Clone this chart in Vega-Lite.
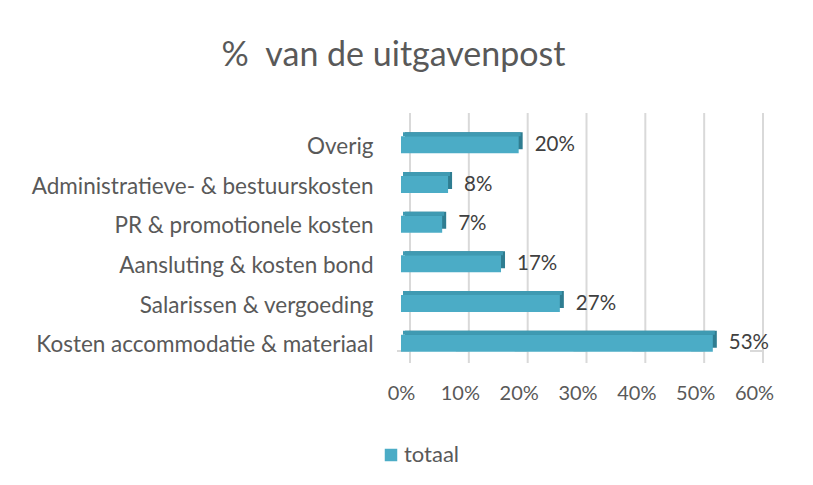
{
  "$schema": "https://vega.github.io/schema/vega-lite/v6.json",
  "width": 353,
  "height": 238,
  "autosize": {"type": "none"},
  "padding": {"left": 401, "top": 125, "right": 59, "bottom": 122},
  "background": "white",
  "config": {
    "view": {"stroke": null},
    "font": "Lato"
  },
  "title": {
    "text": "% \u00a0van de uitgavenpost",
    "anchor": "middle",
    "frame": "group",
    "dx": -184,
    "fontSize": 34,
    "fontWeight": "normal",
    "color": "#595959",
    "font": "Lato",
    "baseline": "alphabetic",
    "offset": 12
  },
  "datasets": {
    "costs": [
      {"post": "Overig\u00a0", "aandeel": 0.20, "reeks": "totaal"},
      {"post": "Administratieve- & bestuurskosten", "aandeel": 0.08, "reeks": "totaal"},
      {"post": "PR & promotionele kosten\u00a0", "aandeel": 0.07, "reeks": "totaal"},
      {"post": "Aansluting & kosten bond", "aandeel": 0.17, "reeks": "totaal"},
      {"post": "Salarissen & vergoeding\u00a0", "aandeel": 0.27, "reeks": "totaal"},
      {"post": "Kosten accommodatie & materiaal", "aandeel": 0.53, "reeks": "totaal"}
    ],
    "grid": [
      {"tick": 0}, {"tick": 0.1}, {"tick": 0.2}, {"tick": 0.3}, {"tick": 0.4}, {"tick": 0.5}, {"tick": 0.6}
    ]
  },
  "layer": [
    {
      "data": {"name": "grid"},
      "mark": {"type": "rule", "color": "#d9d9d9", "strokeWidth": 2, "xOffset": 9, "yOffset": -12, "y2Offset": -12},
      "encoding": {
        "x": {"field": "tick", "type": "quantitative", "scale": {"domain": [0, 0.6]}}
      }
    },
    {
      "data": {"name": "grid"},
      "mark": {"type": "rule", "color": "#d9d9d9", "strokeWidth": 2, "y": "height", "y2": "height", "yOffset": -12, "y2Offset": 2, "xOffset": 9, "x2Offset": -4},
      "encoding": {
        "x": {"field": "tick", "type": "quantitative"},
        "x2": {"field": "tick"}
      }
    },
    {
      "data": {"name": "costs"},
      "layer": [
        {
          "mark": {"type": "bar", "height": 17, "color": "#2f7d91", "xOffset": 4, "x2Offset": 4, "yOffset": -4},
          "encoding": {
            "y": {"field": "post", "type": "nominal", "sort": null},
            "x": {"field": "aandeel", "type": "quantitative"}
          }
        },
        {
          "mark": {"type": "bar", "height": 4, "color": "#3f9ab2", "xOffset": 2, "x2Offset": 2, "yOffset": -10.5},
          "encoding": {
            "y": {"field": "post", "type": "nominal", "sort": null},
            "x": {"field": "aandeel", "type": "quantitative"}
          }
        },
        {
          "mark": {"type": "bar", "height": 17},
          "encoding": {
            "y": {
              "field": "post", "type": "nominal", "sort": null, "title": null,
              "scale": {"paddingInner": 0.5, "paddingOuter": 0.25},
              "axis": {"ticks": false, "domain": false, "labelPadding": 28, "labelFontSize": 22.5, "labelColor": "#595959", "labelLimit": 0, "labelFont": "Lato", "labelOffset": 2}
            },
            "x": {
              "field": "aandeel", "type": "quantitative", "title": null,
              "scale": {"domain": [0, 0.6]},
              "axis": {"values": [0, 0.1, 0.2, 0.3, 0.4, 0.5, 0.6], "format": ".0%", "ticks": false, "domain": false, "grid": false, "labelFlush": false, "labelPadding": 20, "labelFontSize": 20, "labelColor": "#595959", "labelFont": "Lato"}
            },
            "color": {
              "field": "reeks", "type": "nominal", "title": null,
              "scale": {"range": ["#4bacc6"]},
              "legend": {"orient": "none", "legendX": -21, "legendY": 319, "symbolType": "square", "symbolSize": 156, "symbolStrokeWidth": 0, "labelFontSize": 22, "labelColor": "#595959", "labelFont": "Lato", "padding": 0, "labelOffset": 2}
            }
          }
        },
        {
          "mark": {"type": "text", "align": "left", "baseline": "middle", "dx": 16, "fontSize": 20.5, "color": "#404040", "font": "Lato"},
          "encoding": {
            "y": {"field": "post", "type": "nominal", "sort": null},
            "x": {"field": "aandeel", "type": "quantitative"},
            "text": {"field": "aandeel", "type": "quantitative", "format": ".0%"}
          }
        }
      ]
    }
  ]
}
